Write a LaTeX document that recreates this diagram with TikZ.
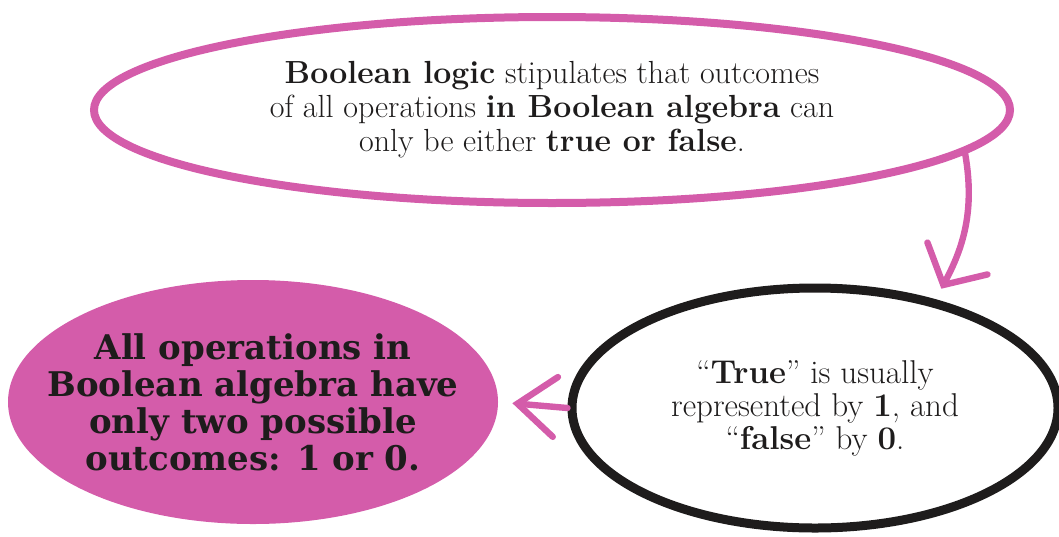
\documentclass[tikz,border=0pt]{standalone}
\usepackage{fontspec}
\usetikzlibrary{shapes.geometric,arrows.meta}
\newfontfamily\slabfont{DejaVu Serif}
\definecolor{boolpink}{RGB}{212,92,170}
\definecolor{inkblack}{RGB}{30,28,28}

\begin{document}
\begin{tikzpicture}[x=0.5pt, y=-0.5pt,
    bubble/.style={ellipse, inner sep=0pt, align=center, text=inkblack,
        font=\fontsize{16}{17}\selectfont},
    pinkring/.style={draw=boolpink, line width=4pt},
    inkring/.style={draw=inkblack, line width=4.5pt},
    pinkarrow/.style={boolpink, line width=3.2pt, line cap=round}]
    % Rahmen
    \useasboundingbox (0,0) rectangle (1059,536);

    % Aussage oben
    \node[bubble, pinkring, minimum width=458pt, minimum height=93pt] (logic) at (552,110)
        {\textbf{Boolean logic} stipulates that outcomes\\
         of all operations \textbf{in Boolean algebra} can\\
         only be either \textbf{true or false}.};

    % rechts: 1 und 0
    \node[bubble, inkring, minimum width=243pt, minimum height=120pt,
        font=\fontsize{16.5}{16.5}\selectfont] (truth) at (815,408)
        {``\textbf{True}'' is usually\\
         represented by \textbf{1}, and\\
         ``\textbf{false}'' by \textbf{0}.};

    % links: Ergebnis
    \node[bubble, fill=boolpink, inner xsep=-24pt, minimum width=245pt, minimum height=122pt,
        font=\slabfont\bfseries\fontsize{17}{18.5}\selectfont] (result) at (253,402)
        {All operations in\\
         Boolean algebra have\\
         only two possible\\
         outcomes: 1 or 0.};

    % Pfeile
    \draw[pinkarrow, -{Straight Barb[length=15pt, width=34pt, line cap=round]},
        shorten >=6pt] (logic.-6.5) to[out=-80, in=62] (truth.42);
    \draw[pinkarrow, -{Straight Barb[length=19pt, width=30pt, line cap=round]},
        shorten >=7pt] (truth.west) -- (result.east);
\end{tikzpicture}
\end{document}
